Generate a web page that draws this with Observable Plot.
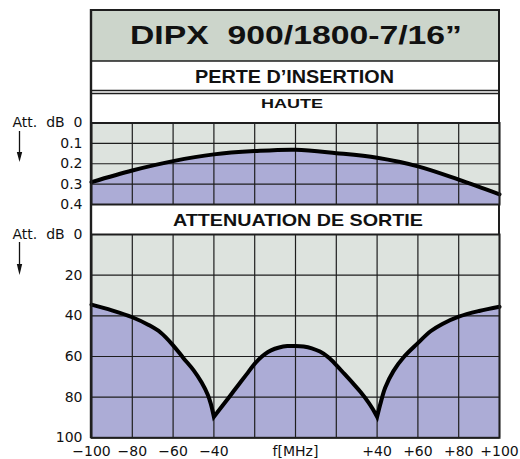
<!DOCTYPE html>
<html><head><meta charset="utf-8">
<script src="https://cdn.jsdelivr.net/npm/d3@7"></script>
<script src="https://cdn.jsdelivr.net/npm/@observablehq/plot@0.6"></script>
<style>
html,body{margin:0;padding:0;background:#fff;}
#wrap{position:relative;width:520px;height:459px;overflow:hidden;}
</style></head><body><div id="wrap"></div>
<script>
// ---- data ----
const titleText = "DIPX\u00a0\u00a0900/1800-7/16\u201d";
const bandInsertion = "PERTE D\u2019INSERTION";
const bandHaute = "HAUTE";
const bandSortie = "ATTENUATION DE SORTIE";
const freqTicks = [-100, -80, -60, -40, 0, 40, 60, 80, 100];
const freqGrid = [-100, -80, -60, -40, -20, 0, 20, 40, 60, 80, 100];
const upperTicks = [0, 0.1, 0.2, 0.3, 0.4];
const lowerTicks = [0, 20, 40, 60, 80, 100];
// insertion loss (upper)
const upperFreq = [-100, -80, -60, -40, -20, 0, 20, 40, 60, 80, 100];
const upperLoss = [0.290, 0.233, 0.187, 0.154, 0.138, 0.131, 0.148, 0.171, 0.213, 0.278, 0.350];
// output attenuation (lower); cusp points repeated at -40 and +40
const lowerFreq = [-100, -90, -80, -72, -66, -60, -55, -50, -46, -43, -41.5, -40,
                   -40, -36, -32, -28, -24, -21, -18, -15, -12, -8, -4, 0, 4, 8, 12, 16, 20, 24, 28, 32, 36, 38, 40,
                   40, 41.6, 44, 48, 53, 59.6, 66.2, 72, 80, 90, 100];
const lowerAtt  = [34.5, 37.3, 40.7, 44.5, 48.3, 54.5, 60.7, 66.7, 72.8, 78.8, 83.3, 89.7,
                   89.7, 84.5, 79.3, 74.0, 68.8, 64.8, 61.4, 58.8, 57.0, 55.6, 54.9, 54.8, 55.1, 56.0, 57.6, 60.3, 64.2, 68.6, 73.0, 77.6, 82.9, 86.1, 89.7,
                   89.7, 83.3, 75.3, 67.2, 60.4, 53.8, 47.6, 44.0, 40.4, 37.6, 35.5];

const upperRows = upperFreq.map((f, i) => ({f, v: upperLoss[i]}));
const lowerRows = lowerFreq.map((f, i) => ({f, v: lowerAtt[i]}));

// ---- styles ----
const BG = "#dde3de", PURPLE = "#acacd6", TITLEBG = "#ccd5cb", GRID = "#1e1e1e", INK = "#111";
const attLabel = "Att.\u00a0\u00a0dB\u00a0\u00a00";
const axisStyle = {background: "transparent", fontFamily: "'DejaVu Sans', sans-serif", fontSize: "14px", color: INK, overflow: "visible"};

const wrap = document.getElementById("wrap");

// decorative frame, bands and arrows
const NS = "http://www.w3.org/2000/svg";
const deco = document.createElementNS(NS, "svg");
deco.setAttribute("width", 520); deco.setAttribute("height", 459);
deco.style.position = "absolute"; deco.style.left = "0px"; deco.style.top = "0px";
const bandFont = "'Liberation Sans', Arial, sans-serif";
deco.innerHTML = `
<rect x="91" y="10" width="408" height="51" fill="${TITLEBG}"/>
<g stroke="${GRID}" fill="none">
  <line x1="90" y1="10" x2="500" y2="10" stroke-width="2"/>
  <line x1="91" y1="61" x2="499" y2="61" stroke-width="1.6"/>
  <line x1="91" y1="90.5" x2="499" y2="90.5" stroke-width="1.3"/>
  <line x1="91" y1="93.5" x2="499" y2="93.5" stroke-width="1.3"/>
  <line x1="91" y1="9" x2="91" y2="438" stroke-width="2.4"/>
  <line x1="499" y1="9" x2="499" y2="438" stroke-width="2"/>
</g>
<g font-family="${bandFont}" font-weight="bold" fill="${INK}" text-anchor="middle">
  <text x="296" y="44" font-size="25" textLength="332" lengthAdjust="spacingAndGlyphs">${titleText}</text>
  <text x="294.5" y="83.3" font-size="18" textLength="199" lengthAdjust="spacingAndGlyphs">${bandInsertion}</text>
  <text x="292" y="107.7" font-size="13.5" textLength="62" lengthAdjust="spacingAndGlyphs">${bandHaute}</text>
  <text x="298" y="226" font-size="17" textLength="250" lengthAdjust="spacingAndGlyphs">${bandSortie}</text>
</g>
<g stroke="${INK}" stroke-width="1.3" fill="${INK}">
  <line x1="19.5" y1="131" x2="19.5" y2="154"/>
  <path d="M16.8,152 L22.2,152 L19.5,162 Z" stroke="none"/>
  <line x1="19.5" y1="242" x2="19.5" y2="266"/>
  <path d="M16.8,264 L22.2,264 L19.5,275 Z" stroke="none"/>
</g>`;
wrap.appendChild(deco);

// upper plot: insertion loss
const upper = Plot.plot({
  width: 520, height: 214,
  marginTop: 122.5, marginBottom: 10, marginLeft: 91, marginRight: 21,
  x: {domain: [-100, 100], axis: null},
  y: {domain: [0, 0.4], reverse: true, ticks: upperTicks, tickSize: 0, tickPadding: 9, label: null,
      tickFormat: d => d === 0 ? attLabel : d.toFixed(1)},
  style: axisStyle,
  marks: [
    Plot.frame({fill: BG}),
    Plot.areaY(upperRows, {x: "f", y1: () => 0.4, y2: "v", curve: "catmull-rom", fill: PURPLE}),
    Plot.ruleX(freqGrid, {stroke: GRID, strokeWidth: 1.2}),
    Plot.ruleY(upperTicks, {stroke: GRID, strokeWidth: 1.2}),
    Plot.line(upperRows, {x: "f", y: "v", curve: "catmull-rom", stroke: "#000", strokeWidth: 4}),
    Plot.frame({stroke: GRID, strokeWidth: 2})
  ]
});
upper.style.position = "absolute"; upper.style.left = "0px"; upper.style.top = "0px";
wrap.appendChild(upper);

// lower plot: output attenuation
const lower = Plot.plot({
  width: 520, height: 245,
  marginTop: 20, marginBottom: 21.7, marginLeft: 91, marginRight: 21,
  x: {domain: [-100, 100], ticks: freqTicks, tickSize: 0, tickPadding: 8, label: null,
      tickFormat: d => d === 0 ? "f[MHz]" : d < 0 ? "\u2212" + (-d) : "+" + d},
  y: {domain: [0, 100], reverse: true, ticks: lowerTicks, tickSize: 0, tickPadding: 9, label: null,
      tickFormat: d => d === 0 ? attLabel : String(d)},
  style: axisStyle,
  marks: [
    Plot.frame({fill: BG}),
    Plot.areaY(lowerRows, {x: "f", y1: () => 100, y2: "v", curve: "catmull-rom", fill: PURPLE}),
    Plot.ruleX(freqGrid, {stroke: GRID, strokeWidth: 1.2}),
    Plot.ruleY(lowerTicks, {stroke: GRID, strokeWidth: 1.2}),
    Plot.line(lowerRows, {x: "f", y: "v", curve: "catmull-rom", stroke: "#000", strokeWidth: 4, strokeLinejoin: "miter", strokeMiterlimit: 10}),
    Plot.frame({stroke: GRID, strokeWidth: 2})
  ]
});
lower.style.position = "absolute"; lower.style.left = "0px"; lower.style.top = "214px";
wrap.appendChild(lower);
</script>
</body></html>
